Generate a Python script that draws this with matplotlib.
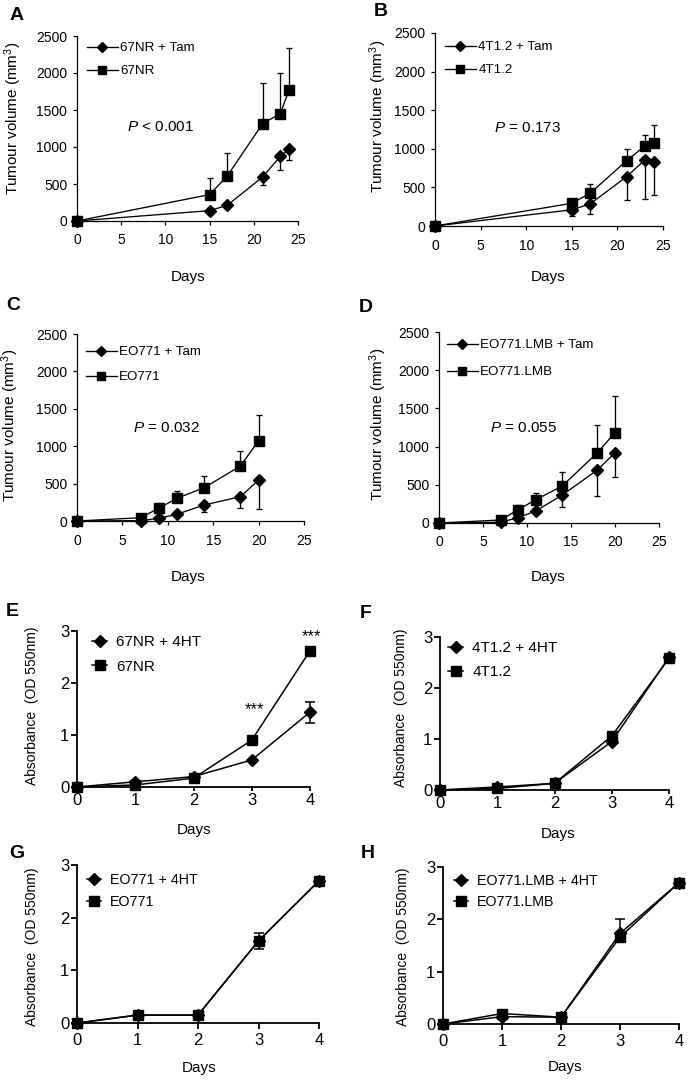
import numpy as np
import matplotlib
matplotlib.use('Agg')
import matplotlib.pyplot as plt

plt.rcParams['font.family'] = ['Liberation Sans', 'DejaVu Sans']
plt.rcParams['mathtext.fontset'] = 'custom'
plt.rcParams['mathtext.rm'] = 'Liberation Sans'
plt.rcParams['mathtext.it'] = 'Liberation Sans:italic'

# ---- tumour volume data (mm3) ----
days_a = [0, 15, 17, 21, 23, 24]
tam_a = [0, 140, 212, 595, 874, 969]
tam_a_err = [0, 0, 0, 113, 189, 139]
ctrl_a = [0, 357, 608, 1316, 1451, 1776]
ctrl_a_err = [0, 229, 311, 554, 549, 567]

days_b = [0, 15, 17, 21, 23, 24]
tam_b = [0, 210, 285, 638, 854, 824]
tam_b_err = [0, 80, 125, 302, 505, 423]
ctrl_b = [0, 294, 423, 845, 1035, 1081]
ctrl_b_err = [0, 0, 116, 158, 142, 225]

days_c = [0, 7, 9, 11, 14, 18, 20]
tam_c = [0, 5, 36, 90, 214, 325, 548]
tam_c_err = [0, 0, 0, 0, 98, 155, 392]
ctrl_c = [0, 44, 170, 303, 445, 735, 1074]
ctrl_c_err = [0, 0, 67, 102, 161, 201, 343]

days_d = [0, 7, 9, 11, 14, 18, 20]
tam_d = [0, 10, 70, 157, 366, 694, 920]
tam_d_err = [0, 0, 0, 0, 153, 341, 314]
ctrl_d = [0, 39, 175, 305, 484, 920, 1182]
ctrl_d_err = [0, 0, 60, 90, 180, 363, 484]

# ---- absorbance data (OD 550nm) ----
days_abs = [0, 1, 2, 3, 4]
e_4ht = [0, 0.10, 0.20, 0.52, 1.44]
e_4ht_err = [0, 0, 0, 0, 0.2]
e_ctrl = [0, 0.04, 0.17, 0.90, 2.62]
f_4ht = [0, 0.06, 0.13, 0.95, 2.60]
f_ctrl = [0, 0.03, 0.13, 1.06, 2.58]
g_4ht = [0, 0.15, 0.15, 1.56, 2.70]
g_4ht_err = [0, 0, 0, 0.15, 0]
g_ctrl = [0, 0.15, 0.15, 1.56, 2.70]
h_4ht = [0, 0.14, 0.13, 1.73, 2.70]
h_4ht_err = [0, 0, 0, 0.27, 0]
h_ctrl = [0, 0.20, 0.13, 1.66, 2.70]

W, H = 693, 1083
fig = plt.figure(figsize=(W / 100, H / 100), dpi=100)


def px_axes(l, t, r, b):
    return fig.add_axes([l / W, 1 - b / H, (r - l) / W, (b - t) / H])


def ftext(x, y, s, **kw):
    fig.text(x / W, 1 - y / H, s, **kw)


def tumour(rect, days, tam, tam_err, ctrl, ctrl_err, names, ptxt, ppos, leg, spacing):
    ax = px_axes(*rect)
    z = np.zeros(len(days))
    kw = dict(color='black', lw=0.95, elinewidth=0.95, capthick=0.95, capsize=2, clip_on=False)
    e1 = ax.errorbar(days, tam, yerr=[tam_err, z], marker='D', ms=6.3, zorder=4, **kw)
    e2 = ax.errorbar(days, ctrl, yerr=[z, ctrl_err], marker='s', ms=7.2, zorder=3, **kw)
    ax.set_xlim(0, 25)
    ax.set_ylim(0, 2500)
    ax.set_xticks(range(0, 26, 5))
    ax.set_yticks(range(0, 2501, 500))
    for s in ['top', 'right']:
        ax.spines[s].set_visible(False)
    for s in ['left', 'bottom']:
        ax.spines[s].set_linewidth(0.9)
    ax.tick_params(direction='out', length=3, width=0.9, labelsize=10)
    ax.tick_params(axis='x', pad=6)
    ax.tick_params(axis='y', pad=4)
    ax.text(ppos[0], ppos[1], ptxt, fontsize=11, ha='left', va='center')
    ax.legend([e1[0], e2[0]], names, loc='upper left',
              bbox_to_anchor=(leg[0] / W, 1 - leg[1] / H), bbox_transform=fig.transFigure,
              frameon=False, fontsize=9.6, handlelength=2.3, handletextpad=0.2,
              labelspacing=spacing, borderpad=0, borderaxespad=0, markerscale=0.8)
    return ax


def absorb(rect, a4, a4err, ctrl, names, leg, spacing, lfs, xpad, xlen):
    ax = px_axes(*rect)
    z = np.zeros(len(days_abs))
    kw = dict(color='black', lw=1.1, elinewidth=1.1, capthick=1.1, capsize=3.5, clip_on=False)
    e2 = ax.errorbar(days_abs, ctrl, marker='s', ms=6.5, zorder=3, **kw)
    e1 = ax.errorbar(days_abs, a4, yerr=a4err, marker='D', ms=6.0, zorder=4, **kw)
    ax.set_xlim(0, 4)
    ax.set_ylim(0, 3)
    ax.set_xticks(range(5))
    ax.set_yticks(range(4))
    for s in ['top', 'right']:
        ax.spines[s].set_visible(False)
    for s in ['left', 'bottom']:
        ax.spines[s].set_linewidth(1.3)
    ax.tick_params(direction='out', width=1.3, labelsize=12)
    ax.tick_params(axis='x', length=xlen, pad=xpad)
    ax.tick_params(axis='y', length=4, pad=1.5)
    ax.legend([e1[0], e2[0]], names, loc='upper left',
              bbox_to_anchor=(leg[0] / W, 1 - leg[1] / H), bbox_transform=fig.transFigure,
              frameon=False, fontsize=lfs, handlelength=1.0, handletextpad=0.6,
              labelspacing=spacing, borderpad=0, borderaxespad=0)
    return ax


ylab_t = 'Tumour volume (mm$^3$)'
ylab_a = 'Absorbance  (OD 550nm)'

tumour((77, 36, 298, 221), days_a, tam_a, tam_a_err, ctrl_a, ctrl_a_err,
       ['67NR + Tam', '67NR'], '$P$ < 0.001', (5.7, 1266), (87, 42), 0.8)
tumour((435, 33, 663, 226), days_b, tam_b, tam_b_err, ctrl_b, ctrl_b_err,
       ['4T1.2 + Tam', '4T1.2'], '$P$ = 0.173', (6.5, 1266), (445, 41), 0.8)
tumour((77, 334, 304, 521), days_c, tam_c, tam_c_err, ctrl_c, ctrl_c_err,
       ['EO771 + Tam', 'EO771'], '$P$ = 0.032', (6.2, 1240), (86, 346), 0.95)
tumour((439, 332, 659, 523), days_d, tam_d, tam_d_err, ctrl_d, ctrl_d_err,
       ['EO771.LMB + Tam', 'EO771.LMB'], '$P$ = 0.055', (5.8, 1250), (447, 339), 1.1)

ax_e = absorb((77, 631, 310, 787), e_4ht, e_4ht_err, e_ctrl,
              ['67NR + 4HT', '67NR'], (92, 635), 0.7, 11, 1, 3)
ax_e.text(3.05, 1.48, '***', fontsize=12, ha='center', va='center')
ax_e.text(4.03, 2.9, '***', fontsize=12, ha='center', va='center')
absorb((440, 637, 669, 790), f_4ht, None, f_ctrl,
       ['4T1.2 + 4HT', '4T1.2'], (448, 641), 0.65, 11, 1, 3)
absorb((77, 865, 319, 1023), g_4ht, g_4ht_err, g_ctrl,
       ['EO771 + 4HT', 'EO771'], (87, 873), 0.55, 10.3, 3, 4)
absorb((443, 867, 679, 1024), h_4ht, [np.zeros(5), h_4ht_err], h_ctrl,
       ['EO771.LMB + 4HT', 'EO771.LMB'], (454, 874), 0.5, 10.3, 3, 4)

# axis titles
for x, y in [(13, 118), (378, 116), (10, 425), (378, 424)]:
    ftext(x, y, ylab_t, rotation=90, fontsize=11, ha='center', va='center')
for x, y in [(32, 706), (401, 708), (32, 947), (403, 947)]:
    ftext(x, y, ylab_a, rotation=90, fontsize=10, ha='center', va='center')
for x, y in [(188, 277), (548, 277), (188, 577), (548, 577),
             (194, 830), (558, 834), (199, 1068), (565, 1067)]:
    ftext(x, y, 'Days', fontsize=11, ha='center', va='center')

# panel letters
for s, x, y in [('A', 17, 15), ('B', 381, 12), ('C', 13, 305), ('D', 366, 308),
                ('E', 12, 612), ('F', 366, 613), ('G', 17, 853), ('H', 368, 853)]:
    ftext(x, y, s, fontsize=14, fontweight='bold', ha='center', va='center')

fig.savefig('out.png', dpi=100)
